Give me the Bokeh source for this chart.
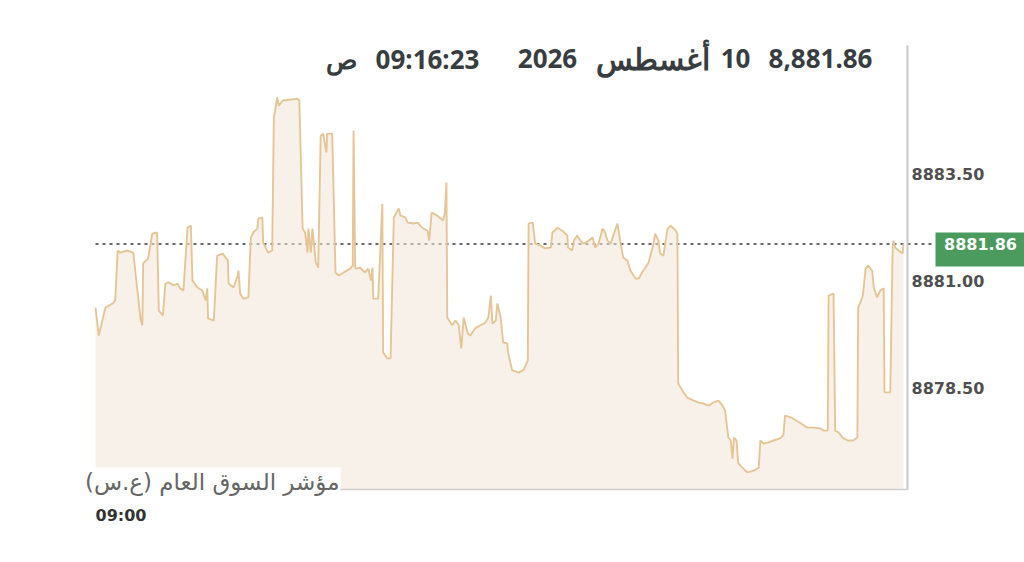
from bokeh.plotting import figure
from bokeh.models import Label, Range1d
from bokeh.core.properties import value
from bokeh.embed import file_html
from bokeh.resources import INLINE

# ---- data: TASI intraday, seconds after 09:00 and index value ----
secs = [
    0, 4, 12, 21, 24, 27, 30, 39, 46, 51,
    55, 57, 58, 64, 69, 75, 77, 82, 85, 89,
    95, 100, 103, 107, 112, 116, 118, 124, 130, 134,
    136, 137, 144, 148, 155, 158, 161, 162, 168, 173,
    174, 176, 180, 186, 189, 192, 197, 198, 203, 204,
    210, 215, 217, 221, 223, 228, 246, 248, 252, 255,
    258, 259, 262, 264, 268, 271, 274, 277, 281, 282,
    288, 292, 296, 302, 310, 313, 314, 316, 322, 328,
    332, 335, 337, 338, 344, 349, 350, 355, 359, 363,
    369, 371, 377, 380, 387, 392, 395, 399, 404, 406,
    409, 416, 423, 425, 427, 428, 432, 434, 438, 442,
    445, 448, 453, 456, 462, 468, 474, 478, 481, 483,
    487, 489, 493, 496, 501, 502, 507, 515, 521, 526,
    527, 532, 535, 541, 547, 554, 556, 562, 568, 574,
    575, 580, 582, 586, 590, 594, 600, 605, 608, 612,
    617, 620, 623, 627, 630, 635, 639, 642, 647, 651,
    657, 661, 665, 669, 673, 679, 681, 685, 687, 691,
    696, 700, 706, 708, 709, 714, 720, 728, 734, 740,
    746, 751, 758, 763, 766, 770, 773, 775, 777, 780,
    782, 787, 793, 801, 807, 809, 813, 818, 825, 833,
    837, 839, 846, 852, 858, 866, 874, 882, 886, 891,
    892, 898, 900, 904, 909, 915, 922, 927, 928, 933,
    934, 937, 940, 945, 947, 951, 955, 959, 960, 967,
    970, 971, 973, 977, 982, 983,
]
values = [
    8880.38, 8879.73, 8880.38, 8880.48, 8880.55, 8881.71, 8881.66, 8881.71, 8881.66, 8880.78,
    8880.08, 8879.97, 8881.41, 8881.52, 8882.10, 8882.13, 8880.31, 8880.20, 8880.94, 8880.97,
    8880.90, 8880.94, 8880.83, 8880.78, 8882.24, 8882.29, 8881.01, 8880.85, 8880.78, 8880.55,
    8880.83, 8880.13, 8880.08, 8881.59, 8881.64, 8881.55, 8881.48, 8880.94, 8880.85, 8881.13,
    8881.24, 8880.71, 8880.59, 8880.62, 8882.01, 8882.13, 8882.22, 8882.45, 8882.48, 8881.90,
    8881.66, 8881.71, 8884.78, 8885.27, 8885.08, 8885.20, 8885.24, 8885.20, 8882.22, 8882.13,
    8881.66, 8882.22, 8881.66, 8882.22, 8881.43, 8881.31, 8884.38, 8884.43, 8883.99, 8884.43,
    8884.43, 8881.20, 8881.13, 8881.20, 8881.29, 8881.36, 8884.50, 8881.29, 8881.31, 8881.20,
    8881.29, 8881.01, 8881.31, 8880.59, 8880.59, 8882.80, 8879.34, 8879.20, 8879.20, 8882.48,
    8882.69, 8882.52, 8882.48, 8882.36, 8882.34, 8882.36, 8882.29, 8882.22, 8882.17, 8881.94,
    8882.59, 8882.52, 8882.41, 8882.57, 8883.29, 8880.15, 8880.03, 8879.97, 8880.08, 8879.97,
    8879.43, 8880.15, 8879.78, 8879.73, 8879.90, 8879.97, 8880.03, 8880.15, 8880.66, 8880.01,
    8880.08, 8880.48, 8880.15, 8879.57, 8879.55, 8879.34, 8878.92, 8878.87, 8878.94, 8879.15,
    8882.34, 8882.36, 8881.87, 8881.83, 8881.76, 8881.78, 8882.13, 8882.24, 8882.17, 8882.06,
    8881.78, 8881.71, 8881.94, 8882.06, 8881.94, 8881.87, 8881.94, 8882.01, 8881.78, 8881.87,
    8882.22, 8882.13, 8881.94, 8881.87, 8882.06, 8882.34, 8881.87, 8881.55, 8881.48, 8881.24,
    8881.06, 8881.06, 8881.20, 8881.31, 8881.43, 8881.87, 8882.10, 8881.94, 8881.64, 8881.59,
    8882.22, 8882.29, 8882.17, 8882.10, 8878.62, 8878.45, 8878.29, 8878.22, 8878.17, 8878.15,
    8878.10, 8878.17, 8878.22, 8878.10, 8877.99, 8877.36, 8877.29, 8876.87, 8877.36, 8877.29,
    8876.76, 8876.66, 8876.55, 8876.59, 8876.66, 8877.29, 8877.22, 8877.24, 8877.29, 8877.34,
    8877.41, 8877.87, 8877.83, 8877.76, 8877.69, 8877.59, 8877.59, 8877.57, 8877.52, 8877.52,
    8880.66, 8880.71, 8877.52, 8877.48, 8877.36, 8877.29, 8877.29, 8877.36, 8880.38, 8880.62,
    8880.71, 8881.29, 8881.36, 8881.24, 8880.85, 8880.62, 8880.78, 8880.83, 8878.41, 8878.41,
    8881.83, 8881.94, 8881.78, 8881.71, 8881.64, 8881.86,
]

last_value = 8881.86
y_ticks = [8878.50, 8881.00, 8883.50]
x_tick_secs = [0]
x_tick_labels = ["09:00"]
header_parts = ["8,881.86", "10", "أغسطس", "2026", "09:16:23", "ص"]
series_name = "مؤشر السوق العام (ع.س)"

# ---- layout: plot box in pixels and the data bounds it shows ----
W, H = 1024, 562
X_LO, X_HI = 0, 988
Y_LO, Y_HI = 8876.15, 8886.48
FL, FR, FT, FB = 95, 907, 45, 489

sx = (X_HI - X_LO) / (FR - FL)
sy = (Y_HI - Y_LO) / (FB - FT)


def px2x(px):
    return X_LO + (px - FL) * sx


def py2y(py):
    return Y_HI - (py - FT) * sy


p = figure(width=W, height=H, output_backend="svg", toolbar_location=None,
           x_range=Range1d(px2x(0), px2x(W)), y_range=Range1d(py2y(H), py2y(0)),
           x_axis_location=None, y_axis_location=None, title=None, min_border=0)
p.outline_line_color = None
p.grid.visible = False
p.background_fill_color = "white"
p.border_fill_color = "white"

# last-value dotted line (drawn first so the fill softens it)
p.segment(x0=[X_LO], y0=[last_value], x1=[px2x(935)], y1=[last_value],
          line_color="#6a6a6a", line_width=2, line_dash="3 4")

p.varea(x=secs, y1=Y_LO, y2=values, fill_color="#f3e6d8", fill_alpha=0.55)
p.line(x=secs, y=values, line_color="#e6c595", line_width=1.9)

# axis lines (bottom and right)
p.segment(x0=[X_LO], y0=[Y_LO], x1=[X_HI], y1=[Y_LO], line_color="#cfcfcf", line_width=1.5)
p.segment(x0=[X_HI], y0=[Y_LO], x1=[X_HI], y1=[Y_HI], line_color="#c8c8c8", line_width=2)

# right axis tick labels
p.text(x=[px2x(911)] * len(y_ticks), y=y_ticks, text=[f"{v:.2f}" for v in y_ticks],
       text_align="left", text_baseline="middle", text_font=value("DejaVu Sans"),
       text_font_style="bold", text_font_size="16px", text_color="#505050")

# time tick label
p.text(x=x_tick_secs, y=[py2y(515)] * len(x_tick_secs), text=x_tick_labels,
       text_align="left", text_baseline="middle", text_font=value("DejaVu Sans"),
       text_font_style="bold", text_font_size="16px", text_color="#333333")

# series name, bottom-left with white background over the axis line
p.add_layout(Label(x=px2x(340), y=py2y(481), text=series_name, text_align="right",
                   text_baseline="middle", text_font="DejaVu Sans", text_font_size="23px",
                   text_color="#666666", background_fill_color="white", padding=1))

# header pieces (visual order right to left)
centers = [820, 735, 652, 547, 427, 341]
sizes = ["26px", "26px", "30px", "26px", "26px", "26px"]
for txt, cx, fs in zip(header_parts, centers, sizes):
    p.add_layout(Label(x=px2x(cx), y=py2y(58), text=txt, text_align="center",
                       text_baseline="middle", text_font="Noto Sans", text_font_style="bold",
                       text_font_size=fs, text_color="#383d42"))

# last value badge
p.quad(left=[px2x(935)], right=[px2x(1030)], top=[py2y(232)], bottom=[py2y(266)],
       fill_color="#4b9b5e", line_color=None)
p.text(x=[px2x(980)], y=[last_value], text=[f"{last_value:.2f}"],
       text_align="center", text_baseline="middle", text_font=value("DejaVu Sans"),
       text_font_style="bold", text_font_size="16px", text_color="white")

open("out.html", "w").write(file_html(p, INLINE))
